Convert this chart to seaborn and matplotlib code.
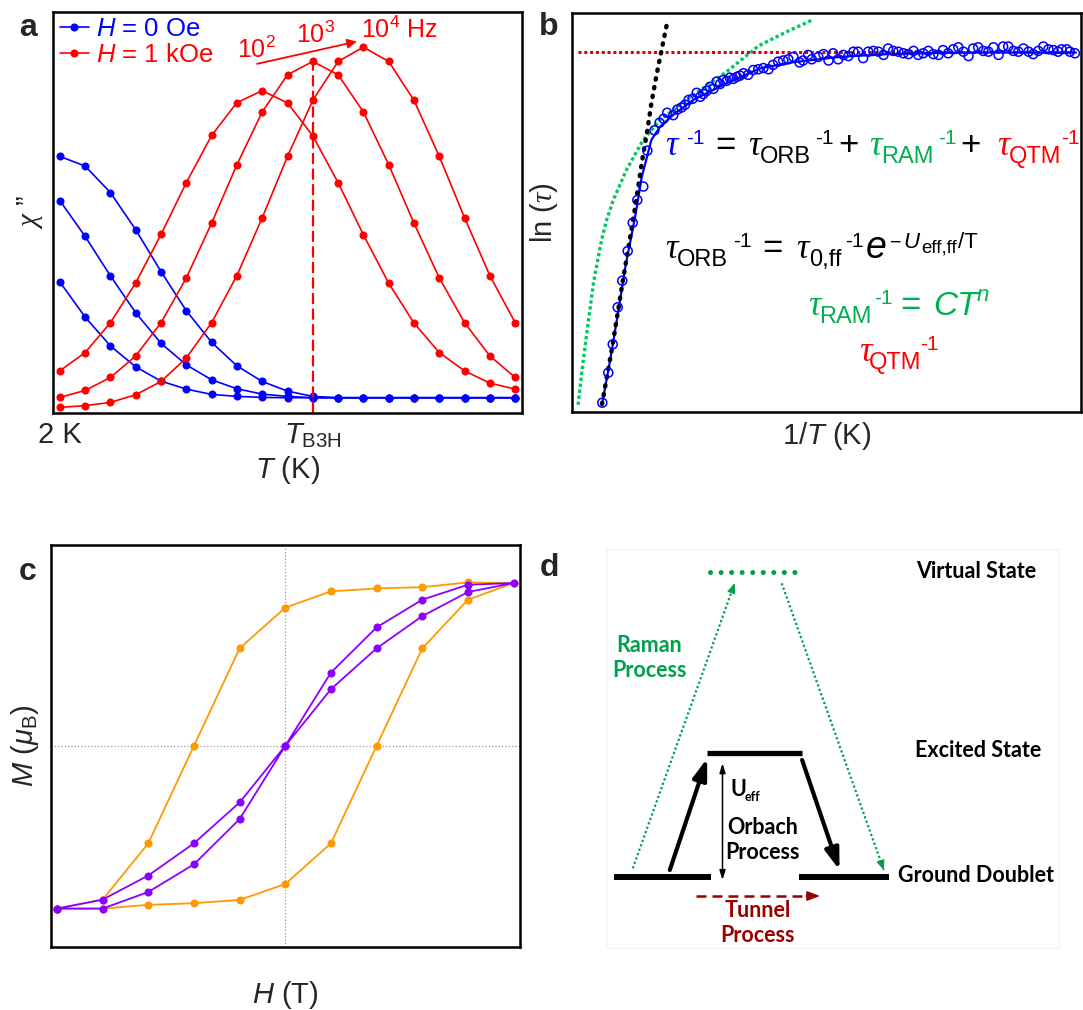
import numpy as np
import pandas as pd
import matplotlib
matplotlib.use("Agg")
import matplotlib.pyplot as plt
import seaborn as sns
from matplotlib.lines import Line2D
from matplotlib import transforms
from matplotlib.patches import Rectangle

# ------------------------------------------------------------------ data
# panel a : chi'' vs T (index of temperature step)
a_T = list(range(19))
a_blue_1 = [7.73, 7.44, 6.64, 5.52, 4.26, 3.08, 2.13, 1.42, 0.95, 0.66, 0.50, 0.46, 0.46, 0.46, 0.46, 0.46, 0.46, 0.46, 0.46]
a_blue_2 = [6.40, 5.32, 4.13, 3.02, 2.10, 1.45, 1.00, 0.73, 0.57, 0.50, 0.46, 0.46, 0.46, 0.46, 0.46, 0.46, 0.46, 0.46, 0.46]
a_blue_3 = [3.95, 2.89, 2.02, 1.39, 0.96, 0.72, 0.56, 0.50, 0.47, 0.46, 0.46, 0.46, 0.46, 0.46, 0.46, 0.46, 0.46, 0.46, 0.46]
a_red_1 = [1.27, 1.82, 2.72, 3.92, 5.38, 6.94, 8.36, 9.35, 9.71, 9.34, 8.35, 6.94, 5.37, 3.91, 2.71, 1.82, 1.27, 0.90, 0.72]
a_red_2 = [0.47, 0.68, 1.07, 1.72, 2.72, 4.07, 5.72, 7.48, 9.07, 10.19, 10.59, 10.19, 9.07, 7.48, 5.72, 4.07, 2.72, 1.72, 1.07]
a_red_3 = [0.17, 0.22, 0.32, 0.55, 0.95, 1.66, 2.72, 4.14, 5.88, 7.73, 9.42, 10.59, 11.02, 10.59, 9.42, 7.73, 5.88, 4.14, 2.72]
a_tick_pos = [0, 10]
a_tick_labels = ["2 K", r"$T_{\mathrm{B3H}}$"]
a_legend = [r"$H$ = 0 Oe", r"$H$ = 1 kOe"]
a_freq_labels = [r"10$^2$", r"10$^3$", r"10$^4$ Hz"]

# panel b : ln(tau) vs 1/T
b_inv_T = [0.595, 0.713, 0.800, 0.898, 0.988, 1.094, 1.193, 1.283, 1.40, 1.48, 1.62, 1.72, 1.80,
           1.87, 1.99, 2.07, 2.15, 2.22, 2.29, 2.37, 2.45, 2.52, 2.58, 2.65, 2.71, 2.78, 2.84, 2.91,
           2.97, 3.04, 3.10, 3.17, 3.24, 3.30,
           3.37, 3.46, 3.56, 3.66, 3.76, 3.86, 3.95, 4.05, 4.15, 4.25, 4.35, 4.47, 4.54, 4.64, 4.71,
           4.84, 4.94, 5.04, 5.13, 5.23, 5.33, 5.43, 5.53, 5.62, 5.72, 5.82, 5.92, 6.02, 6.12, 6.21,
           6.31, 6.41, 6.51, 6.61, 6.71, 6.80, 6.90, 7.00, 7.10, 7.20, 7.29, 7.39, 7.49, 7.59, 7.69,
           7.79, 7.88, 7.98, 8.08, 8.18, 8.28, 8.38, 8.47, 8.57, 8.67, 8.77, 8.87, 8.97, 9.06, 9.16,
           9.26, 9.36, 9.46, 9.55, 9.62, 9.72, 9.78, 9.88]
b_ln_tau = [0.233, 0.985, 1.697, 2.624, 3.291, 4.035, 4.744, 5.313, 5.65, 6.55, 7.06, 7.25, 7.35,
            7.50, 7.44, 7.58, 7.63, 7.70, 7.82, 7.85, 8.00, 7.90, 7.97, 8.05, 8.15, 8.10, 8.28, 8.22,
            8.32, 8.30, 8.38, 8.35, 8.40, 8.43,
            8.49, 8.45, 8.57, 8.59, 8.62, 8.59, 8.70, 8.78, 8.81, 8.84, 8.90, 8.76, 8.81, 8.95, 8.84,
            8.90, 8.97, 8.81, 8.99, 8.84, 8.95, 8.92, 9.03, 9.03, 8.87, 9.03, 9.05, 9.03, 8.95, 9.11,
            9.05, 9.03, 8.99, 8.97, 9.05, 8.95, 8.99, 9.05, 8.97, 8.95, 9.07, 8.99, 9.09, 9.14, 9.03,
            8.92, 9.11, 9.14, 9.05, 9.03, 9.14, 8.95, 9.16, 9.16, 9.05, 9.03, 9.11, 9.03, 8.97, 9.05,
            9.16, 9.09, 9.07, 9.03, 9.09, 9.09, 9.03, 8.99]
b_fit_x = [0.59, 0.75, 0.90, 1.05, 1.24, 1.37, 1.56, 1.73, 1.99, 2.38, 3.04, 3.69, 4.30, 5.26, 6.20, 7.20, 8.20, 9.20, 9.90]
b_fit_y = [0.20, 1.30, 2.45, 3.65, 4.89, 5.89, 6.82, 7.15, 7.45, 7.82, 8.24, 8.61, 8.76, 8.90, 8.97, 9.00, 9.01, 9.01, 9.01]
b_orb_x = [0.59, 0.80, 1.00, 1.22, 1.30, 1.39, 1.48, 1.56, 1.66, 1.76, 1.86]
b_orb_y = [0.20, 1.70, 3.30, 4.97, 5.64, 6.39, 7.06, 7.74, 8.44, 9.07, 9.70]
b_ram_x = [0.12, 0.19, 0.29, 0.42, 0.58, 0.68, 0.81, 1.07, 1.40, 1.73, 2.38, 3.04, 3.67, 4.20, 4.71]
b_ram_y = [0.18, 0.97, 1.97, 3.22, 4.31, 4.81, 5.31, 6.07, 6.82, 7.32, 7.94, 8.53, 9.18, 9.52, 9.82]
b_qtm_x = [0.12, 9.84]
b_qtm_y = [9.03, 9.03]

# panel c : M vs H hysteresis (field steps)
c_H_loop = [-5, -4, -3, -2, -1, 0, 1, 2, 3, 4, 5, 4, 3, 2, 1, 0, -1, -2, -3, -4, -5]
c_M_orange = [-1.0, -1.0, -0.977, -0.967, -0.947, -0.849, -0.599, 0.0, 0.599, 0.898, 1.0,
              1.004, 0.975, 0.967, 0.949, 0.849, 0.599, 0.0, -0.599, -0.945, -1.0]
c_M_purple = [-1.0, -1.0, -0.898, -0.728, -0.450, 0.0, 0.348, 0.599, 0.797, 0.945, 1.0,
              0.990, 0.898, 0.728, 0.450, 0.0, -0.348, -0.599, -0.797, -0.945, -1.0]

# panel d : relaxation scheme
d_state_names = ["Virtual State", "Excited State", "Ground Doublet"]
d_process_names = ["Raman\nProcess", "Orbach\nProcess", "Tunnel\nProcess"]

# ------------------------------------------------------------------ style
sns.set_theme(style="white")
plt.rcParams["font.family"] = ["Liberation Sans", "DejaVu Sans"]
plt.rcParams["mathtext.fontset"] = "custom"
plt.rcParams["mathtext.rm"] = "Liberation Sans"
plt.rcParams["mathtext.it"] = "Liberation Sans:italic"
plt.rcParams["mathtext.bf"] = "Liberation Sans:bold"
plt.rcParams["mathtext.cal"] = "Liberation Serif:italic"

BLUE, RED = "#0000FF", "#FF0000"
GREEN_T, GREEN_L = "#00B050", "#00C864"
ORANGE, PURPLE = "#FF9900", "#8B00FF"
DGREEN, DRED = "#00A04B", "#990000"

W, H = 1083, 1010
fig = plt.figure(figsize=(W / 100, H / 100), dpi=100)
fig.patch.set_facecolor("white")


def px_axes(left, top, right, bottom):
    return fig.add_axes([left / W, 1 - bottom / H, (right - left) / W, (bottom - top) / H])


def frame(ax, lw=1.8):
    for s in ax.spines.values():
        s.set_visible(True)
        s.set_color("black")
        s.set_linewidth(lw)


LAB = 21

# ------------------------------------------------------------------ panel a
axa = px_axes(53, 12, 522, 413)
rows = []
for name, vals in [("b1", a_blue_1), ("b2", a_blue_2), ("b3", a_blue_3),
                   ("r1", a_red_1), ("r2", a_red_2), ("r3", a_red_3)]:
    for t, v in zip(a_T, vals):
        rows.append({"T": t, "chi": v, "curve": name})
df_a = pd.DataFrame(rows)
pal_a = {"b1": BLUE, "b2": BLUE, "b3": BLUE, "r1": RED, "r2": RED, "r3": RED}
sns.lineplot(data=df_a, x="T", y="chi", hue="curve", palette=pal_a, estimator=None, sort=False,
             marker="o", markersize=5.8, markeredgewidth=0, linewidth=1.2, legend=False, ax=axa)
axa.vlines(a_T[10], 0, max(a_red_2), colors=RED, linestyles=(0, (5, 2)), linewidth=1.6)
axa.annotate("", xy=(11.85, 11.21), xytext=(7.69, 10.50),
             arrowprops=dict(arrowstyle="-|>", color=RED, lw=1.3, mutation_scale=14))
axa.text(7.78, 10.95, a_freq_labels[0], color=RED, fontsize=18, ha="center", va="center")
axa.text(10.09, 11.38, a_freq_labels[1], color=RED, fontsize=18, ha="center", va="center")
axa.text(11.9, 11.53, a_freq_labels[2], color=RED, fontsize=18, ha="left", va="center")
axa.set_xlim(-0.27, 18.27)
axa.set_ylim(0, 12.08)
axa.set_xticks(a_tick_pos)
axa.set_xticklabels(a_tick_labels, fontsize=LAB)
axa.set_yticks([])
axa.tick_params(axis="x", length=0, pad=6)
axa.set_xlabel(r"$T$ (K)", fontsize=LAB, labelpad=3)
axa.set_ylabel(r"$\mathcal{\chi}$ ”", fontsize=LAB, labelpad=6)
frame(axa)
handles = [Line2D([], [], color=BLUE, marker="o", lw=1.2, ms=5.8, mew=0),
           Line2D([], [], color=RED, marker="o", lw=1.2, ms=5.8, mew=0)]
leg = axa.legend(handles, a_legend, loc="upper left", bbox_to_anchor=(0.01, 0.995), frameon=False,
                 fontsize=18.5, handlelength=1.1, handletextpad=0.3, labelspacing=0.1,
                 borderpad=0.1, borderaxespad=0)
for txt, c in zip(leg.get_texts(), [BLUE, RED]):
    txt.set_color(c)

# ------------------------------------------------------------------ panel b
axb = px_axes(572, 13, 1081, 412)
sns.lineplot(x=b_ram_x, y=b_ram_y, color=GREEN_L, linewidth=2.4, linestyle=(0, (1, 0.8)),
             sort=False, estimator=None, ax=axb)
sns.lineplot(x=b_qtm_x, y=b_qtm_y, color="#E00000", linewidth=2.2, linestyle=(0, (1, 0.9)),
             sort=False, estimator=None, ax=axb)
sns.lineplot(x=b_fit_x, y=b_fit_y, color=BLUE, linewidth=1.6, sort=False, estimator=None, ax=axb)
orb = sns.lineplot(x=b_orb_x, y=b_orb_y, color="black", linewidth=3.2, linestyle=(0, (0.3, 1.7)),
                   sort=False, estimator=None, ax=axb)
orb.lines[-1].set_dash_capstyle("round")
sns.scatterplot(x=b_inv_T, y=b_ln_tau, marker="o", s=42, facecolor="none", edgecolor=BLUE,
                linewidth=1.1, ax=axb, zorder=5)
axb.set_xlim(0, 10)
axb.set_ylim(0, 10)
axb.set_xticks([])
axb.set_yticks([])
axb.set_xlabel(r"1/$T$ (K)", fontsize=LAB, labelpad=6)
axb.set_ylabel(r"ln ($\mathcal{\tau}$)", fontsize=LAB, labelpad=9)
frame(axb)

TAU = dict(family="Liberation Serif", style="italic")


def piece(ax, fx, fy, s, color, size, dy=0, family="Liberation Sans", style="normal"):
    tr = transforms.offset_copy(ax.transAxes, fig=fig, x=0, y=dy, units="dots")
    ax.text(fx, fy, s, transform=tr, color=color, fontsize=size, fontfamily=family,
            fontstyle=style, ha="left", va="baseline")


MAIN, SUB, SUP = 25, 17, 15
SD, PD = -8, 11
# line 1
y1 = 0.644
for fx, s, col, size, dy, fam in [
    (0.1833, "τ", BLUE, MAIN, 0, "tau"), (0.224, "-1", BLUE, SUP, PD, None),
    (0.2817, "=", "black", MAIN, 0, None),
    (0.3462, "τ", "black", MAIN, 0, "tau"), (0.370, "ORB", "black", SUB, SD, None),
    (0.4786, "-1", "black", SUP, PD, None), (0.5227, "+", "black", MAIN, 0, None),
    (0.5838, "τ", GREEN_T, MAIN, 0, "tau"), (0.6076, "RAM", GREEN_T, SUB, SD, None),
    (0.7196, "-1", GREEN_T, SUP, PD, None), (0.7637, "+", "black", MAIN, 0, None),
    (0.835, "τ", RED, MAIN, 0, "tau"), (0.8588, "QTM", RED, SUB, SD, None),
    (0.9606, "-1", RED, SUP, PD, None)]:
    if fam == "tau":
        piece(axb, fx, y1, s, col, size, dy, **TAU)
    else:
        piece(axb, fx, y1, s, col, size, dy)
# line 2
y2 = 0.386
for fx, s, size, dy, fam, st in [
    (0.1833, "τ", MAIN, 0, "Liberation Serif", "italic"),
    (0.2057, "ORB", SUB, SD, "Liberation Sans", "normal"),
    (0.3157, "-1", SUP, PD, "Liberation Sans", "normal"),
    (0.3734, "=", MAIN, 0, "Liberation Sans", "normal"),
    (0.440, "τ", MAIN, 0, "Liberation Serif", "italic"),
    (0.465, "0,ff", SUB, SD, "Liberation Sans", "normal"),
    (0.5363, "-1", SUP, PD, "Liberation Sans", "normal"),
    (0.577, "e", 27, 0, "Liberation Sans", "italic"),
    (0.625, "−", 14, 10, "Liberation Sans", "normal"),
    (0.650, "U", 16, 10, "Liberation Sans", "italic"),
    (0.686, "eff,ff", 13.5, 5, "Liberation Sans", "normal"),
    (0.759, "/T", 16, 10, "Liberation Sans", "normal")]:
    piece(axb, fx, y2, s, "black", size, dy, family=fam, style=st)
# line 3
y3 = 0.244
piece(axb, 0.465, y3, "τ", GREEN_T, MAIN, 0, **TAU)
piece(axb, 0.4854, y3, "RAM", GREEN_T, SUB, SD)
piece(axb, 0.594, y3, "-1", GREEN_T, SUP, PD)
piece(axb, 0.645, y3, "=", GREEN_T, MAIN, 0)
piece(axb, 0.7094, y3, "CT", GREEN_T, 24, 0, style="italic")
piece(axb, 0.7957, y3, "n", GREEN_T, 16, 14, style="italic")
# line 4
y4 = 0.1275
piece(axb, 0.5635, y4, "τ", RED, MAIN, 0, **TAU)
piece(axb, 0.5838, y4, "QTM", RED, SUB, SD)
piece(axb, 0.6836, y4, "-1", RED, SUP, PD)

# ------------------------------------------------------------------ panel c
axc = px_axes(51, 545, 520, 947)
axc.axhline(0, color="#9a9a9a", linestyle=":", linewidth=0.9, zorder=0)
axc.axvline(0, color="#9a9a9a", linestyle=":", linewidth=0.9, zorder=0)
df_c = pd.DataFrame({"H": c_H_loop + c_H_loop,
                     "M": c_M_orange + c_M_purple,
                     "loop": ["orange"] * len(c_H_loop) + ["purple"] * len(c_H_loop)})
sns.lineplot(data=df_c, x="H", y="M", hue="loop", palette={"orange": ORANGE, "purple": PURPLE},
             units="loop", estimator=None, sort=False, marker="o", markersize=5.8,
             markeredgewidth=0, linewidth=1.3, legend=False, ax=axc)
axc.set_xlim(-5.13, 5.14)
axc.set_ylim(-1.236, 1.234)
axc.set_xticks([])
axc.set_yticks([])
axc.set_xlabel(r"$H$ (T)", fontsize=LAB, labelpad=23)
axc.set_ylabel(r"$M$ ($\mu_{\mathrm{B}}$)", fontsize=LAB, labelpad=7)
frame(axc)

# ------------------------------------------------------------------ panel d
axd = fig.add_axes([540 / W, 0, (W - 540) / W, (H - 520) / H])
axd.set_xlim(540, W)
axd.set_ylim(H, 520)
axd.axis("off")
axd.add_patch(Rectangle((605.8, 549.3), 453.6, 399, fill=False, edgecolor="#f2f2f2", lw=1))
DF = dict(fontfamily="Lato", fontweight="bold", fontsize=15.5)
# levels
axd.plot([709.7, 799.7], [572.3, 572.3], color=DGREEN, lw=3.6, linestyle=(0, (0.01, 2.1)),
         dash_capstyle="round")
axd.plot([706.9, 802.1], [752.7, 752.7], color="black", lw=3.8, solid_capstyle="butt")
axd.plot([614.4, 710.7], [877.3, 877.3], color="black", lw=4.3, solid_capstyle="butt")
axd.plot([799.0, 889.0], [877.3, 877.3], color="black", lw=4.3, solid_capstyle="butt")
axd.text(915.7, 571.7, d_state_names[0], va="center", ha="left", color="black", **DF)
axd.text(914.6, 750.7, d_state_names[1], va="center", ha="left", color="black", **DF)
axd.text(898.4, 876.0, d_state_names[2], va="center", ha="left", color="black", **DF)


def dotted_arrow(p0, p1, color):
    axd.plot([p0[0], p1[0]], [p0[1], p1[1]], color=color, lw=1.6, linestyle=(0, (1, 1.1)))
    v = np.array(p1) - np.array(p0)
    v = v / np.hypot(*v)
    back = np.array(p1) - 9 * v
    axd.annotate("", xy=p1, xytext=tuple(back),
                 arrowprops=dict(arrowstyle="-|>,head_length=0.6,head_width=0.25", color=color,
                                 lw=0.8, shrinkA=0, shrinkB=0, mutation_scale=10))


dotted_arrow((632.8, 868.3), (734.6, 583.3), DGREEN)
dotted_arrow((781.7, 583.3), (883.8, 870.0), DGREEN)
axd.text(649.0, 658.3, d_process_names[0], ha="center", va="center", color=DGREEN,
         linespacing=1.25, multialignment="center", **DF)
# Orbach
axd.annotate("", xy=(707.2, 758.3), xytext=(669.8, 870.0),
             arrowprops=dict(arrowstyle="-|>,head_length=0.9,head_width=0.3", color="black", lw=3,
                             shrinkA=0, shrinkB=0, mutation_scale=14))
axd.annotate("", xy=(839.5, 870.0), xytext=(802.1, 760.0),
             arrowprops=dict(arrowstyle="-|>,head_length=0.9,head_width=0.3", color="black", lw=3,
                             shrinkA=0, shrinkB=0, mutation_scale=14))
axd.annotate("", xy=(722.5, 763.3), xytext=(722.5, 880.0),
             arrowprops=dict(arrowstyle="<|-|>,head_length=0.7,head_width=0.22", color="black",
                             lw=1.1, shrinkA=0, shrinkB=0, mutation_scale=8))
axd.text(730.4, 790.0, "U", ha="left", va="center", color="black", **DF)
axd.text(744.5, 797.5, "eff", ha="left", va="center", color="black", fontfamily="Lato",
         fontweight="bold", fontsize=9)
axd.text(762.6, 839.7, d_process_names[1], ha="center", va="center", color="black",
         linespacing=1.25, multialignment="center", **DF)
# Tunnel
axd.plot([695.8, 808.0], [896.0, 896.0], color=DRED, lw=1.8, linestyle=(0, (4, 2.4)))
axd.annotate("", xy=(820.0, 896.0), xytext=(806.0, 896.0),
             arrowprops=dict(arrowstyle="-|>,head_length=0.8,head_width=0.3", color=DRED, lw=1,
                             shrinkA=0, shrinkB=0, mutation_scale=10))
axd.text(757.4, 923.3, d_process_names[2], ha="center", va="center", color=DRED,
         linespacing=1.25, multialignment="center", **DF)

# ------------------------------------------------------------------ panel letters
for lab, x, y in [("a", 28, 28), ("b", 549, 27), ("c", 28, 572), ("d", 549, 568)]:
    fig.text(x / W, 1 - y / H, lab, ha="center", va="center", fontsize=23, fontweight="bold",
             fontfamily="Liberation Sans")

fig.savefig("out.png", dpi=100, facecolor="white")
